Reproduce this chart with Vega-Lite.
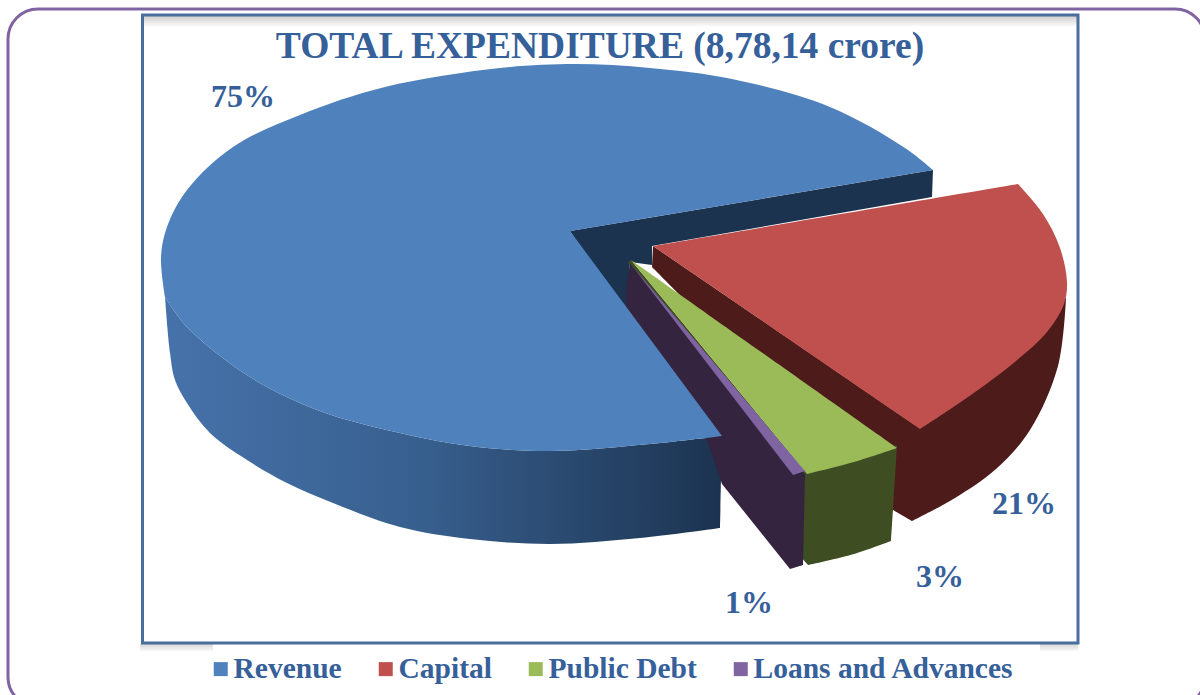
{"$schema":"https://vega.github.io/schema/vega-lite/v6.json","width":1200,"height":695,"padding":0,"autosize":"none","background":"white","view":{"stroke":null},
"title":{"text":"TOTAL EXPENDITURE (8,78,14 crore)","font":"Liberation Serif","fontSize":37.5,"fontWeight":"bold","color":"#35609a","anchor":"middle","offset":-95,"baseline":"alphabetic"},
"datasets":{
"frames":[{"frame":"outer","x":8,"x2":1205,"y":9,"y2":707}],
"panel":[{"frame":"panel","x":142.5,"x2":1078,"y":15,"y2":643}],
"topShade":[{"x":144,"x2":1077,"y":16,"y2":27}],
"bottomShade":[{"x":140,"x2":213,"y":644,"y2":652},{"x":1040,"x2":1078,"y":644,"y2":652}],
"labels":[{"label":"75%","x":243,"y":97},{"label":"21%","x":1024,"y":504},{"label":"3%","x":940,"y":577},{"label":"1%","x":749,"y":603}],
"outline":[
{"part":"BackWall","i":1,"x":570,"y":231},{"part":"BackWall","i":2,"x":933,"y":170},{"part":"BackWall","i":3,"x":932,"y":197},{"part":"BackWall","i":4,"x":652,"y":246},{"part":"BackWall","i":5,"x":652,"y":265},{"part":"BackWall","i":6,"x":630,"y":262},{"part":"BackWall","i":7,"x":626,"y":312},{"part":"BackWall","i":8,"x":605,"y":285},
{"part":"RevenueWall","i":1,"x":165,"y":297},{"part":"RevenueWall","i":2,"x":165,"y":297},{"part":"RevenueWall","i":3,"x":187,"y":327},{"part":"RevenueWall","i":4,"x":250,"y":377},{"part":"RevenueWall","i":5,"x":320,"y":411},{"part":"RevenueWall","i":6,"x":400,"y":433},{"part":"RevenueWall","i":7,"x":470,"y":446},{"part":"RevenueWall","i":8,"x":550,"y":451},{"part":"RevenueWall","i":9,"x":650,"y":444},{"part":"RevenueWall","i":10,"x":722,"y":436},{"part":"RevenueWall","i":11,"x":722,"y":436},{"part":"RevenueWall","i":12,"x":720,"y":528},{"part":"RevenueWall","i":13,"x":720,"y":528},{"part":"RevenueWall","i":14,"x":640,"y":538},{"part":"RevenueWall","i":15,"x":550,"y":544},{"part":"RevenueWall","i":16,"x":470,"y":539},{"part":"RevenueWall","i":17,"x":400,"y":527},{"part":"RevenueWall","i":18,"x":333,"y":503},{"part":"RevenueWall","i":19,"x":287,"y":483},{"part":"RevenueWall","i":20,"x":247,"y":460},{"part":"RevenueWall","i":21,"x":210,"y":433},{"part":"RevenueWall","i":22,"x":187,"y":403},{"part":"RevenueWall","i":23,"x":175,"y":380},{"part":"RevenueWall","i":24,"x":170,"y":353},{"part":"RevenueWall","i":25,"x":165,"y":297},
{"part":"CapitalWall","i":1,"x":653,"y":246},{"part":"CapitalWall","i":2,"x":915,"y":425},{"part":"CapitalWall","i":3,"x":915,"y":425},{"part":"CapitalWall","i":4,"x":1000,"y":340},{"part":"CapitalWall","i":5,"x":1000,"y":340},{"part":"CapitalWall","i":6,"x":1066,"y":298},{"part":"CapitalWall","i":7,"x":1066,"y":298},{"part":"CapitalWall","i":8,"x":1058,"y":366},{"part":"CapitalWall","i":9,"x":1030,"y":430},{"part":"CapitalWall","i":10,"x":996,"y":469},{"part":"CapitalWall","i":11,"x":955,"y":498},{"part":"CapitalWall","i":12,"x":912,"y":521},{"part":"CapitalWall","i":13,"x":912,"y":521},{"part":"CapitalWall","i":14,"x":893,"y":510},{"part":"CapitalWall","i":15,"x":893,"y":510},{"part":"CapitalWall","i":16,"x":652,"y":267},
{"part":"PublicWall","i":1,"x":800,"y":470},{"part":"PublicWall","i":2,"x":897,"y":445},{"part":"PublicWall","i":3,"x":897,"y":445},{"part":"PublicWall","i":4,"x":891,"y":541},{"part":"PublicWall","i":5,"x":891,"y":541},{"part":"PublicWall","i":6,"x":854,"y":554},{"part":"PublicWall","i":7,"x":808,"y":565},{"part":"PublicWall","i":8,"x":808,"y":565},{"part":"PublicWall","i":9,"x":800,"y":556},
{"part":"PublicEdge","i":1,"x":631,"y":260},{"part":"PublicEdge","i":2,"x":807,"y":474},{"part":"PublicEdge","i":3,"x":807,"y":474},{"part":"PublicEdge","i":4,"x":800,"y":472},{"part":"PublicEdge","i":5,"x":800,"y":472},{"part":"PublicEdge","i":6,"x":628,"y":262},
{"part":"LoansWall","i":1,"x":630,"y":263},{"part":"LoansWall","i":2,"x":805,"y":474},{"part":"LoansWall","i":3,"x":803,"y":565},{"part":"LoansWall","i":4,"x":790,"y":569},{"part":"LoansWall","i":5,"x":722,"y":484},{"part":"LoansWall","i":6,"x":700,"y":420},{"part":"LoansWall","i":7,"x":626,"y":312},{"part":"LoansWall","i":8,"x":626,"y":292},
{"part":"Revenue","i":1,"x":570,"y":231},{"part":"Revenue","i":2,"x":933,"y":170},{"part":"Revenue","i":3,"x":933,"y":170},{"part":"Revenue","i":4,"x":905,"y":148},{"part":"Revenue","i":5,"x":830,"y":107},{"part":"Revenue","i":6,"x":732,"y":79},{"part":"Revenue","i":7,"x":650,"y":68},{"part":"Revenue","i":8,"x":575,"y":64},{"part":"Revenue","i":9,"x":500,"y":68},{"part":"Revenue","i":10,"x":385,"y":87},{"part":"Revenue","i":11,"x":300,"y":115},{"part":"Revenue","i":12,"x":233,"y":147},{"part":"Revenue","i":13,"x":187,"y":190},{"part":"Revenue","i":14,"x":167,"y":227},{"part":"Revenue","i":15,"x":161,"y":257},{"part":"Revenue","i":16,"x":165,"y":297},{"part":"Revenue","i":17,"x":165,"y":297},{"part":"Revenue","i":18,"x":187,"y":327},{"part":"Revenue","i":19,"x":250,"y":377},{"part":"Revenue","i":20,"x":320,"y":411},{"part":"Revenue","i":21,"x":400,"y":433},{"part":"Revenue","i":22,"x":470,"y":446},{"part":"Revenue","i":23,"x":550,"y":451},{"part":"Revenue","i":24,"x":650,"y":444},{"part":"Revenue","i":25,"x":722,"y":436},
{"part":"Capital","i":1,"x":653,"y":246},{"part":"Capital","i":2,"x":1018,"y":184},{"part":"Capital","i":3,"x":1018,"y":184},{"part":"Capital","i":4,"x":1043,"y":214},{"part":"Capital","i":5,"x":1060,"y":248},{"part":"Capital","i":6,"x":1067,"y":282},{"part":"Capital","i":7,"x":1064,"y":304},{"part":"Capital","i":8,"x":1047,"y":332},{"part":"Capital","i":9,"x":1016,"y":361},{"part":"Capital","i":10,"x":985,"y":385},{"part":"Capital","i":11,"x":949,"y":410},{"part":"Capital","i":12,"x":920,"y":429},
{"part":"Public Debt","i":1,"x":631,"y":260},{"part":"Public Debt","i":2,"x":897,"y":448},{"part":"Public Debt","i":3,"x":897,"y":448},{"part":"Public Debt","i":4,"x":854,"y":462},{"part":"Public Debt","i":5,"x":807,"y":474},
{"part":"Loans and Advances","i":1,"x":630,"y":263},{"part":"Loans and Advances","i":2,"x":805,"y":471},{"part":"Loans and Advances","i":3,"x":805,"y":471},{"part":"Loans and Advances","i":4,"x":793,"y":475}
]},
"encoding":{
"x":{"field":"x","type":"quantitative","scale":{"domain":[0,1200],"range":[0,1200]},"axis":null},
"y":{"field":"y","type":"quantitative","scale":{"domain":[0,695],"range":[0,695]},"axis":null}},
"layer":[
{"data":{"name":"topShade"},"mark":{"type":"rect","fill":{"gradient":"linear","x1":0,"y1":0,"x2":0,"y2":1,"stops":[{"offset":0,"color":"#cfcdca"},{"offset":1,"color":"#ffffff"}]}},"encoding":{"x2":{"field":"x2"},"y2":{"field":"y2"}}},
{"data":{"name":"bottomShade"},"mark":{"type":"rect","fill":{"gradient":"linear","x1":0,"y1":0,"x2":0,"y2":1,"stops":[{"offset":0,"color":"#d5d5d5"},{"offset":1,"color":"#ffffff"}]}},"encoding":{"x2":{"field":"x2"},"y2":{"field":"y2"}}},
{"data":{"name":"frames"},"mark":{"type":"rect","fill":"transparent","stroke":"#8064a2","strokeWidth":3,"cornerRadius":30},"encoding":{"x2":{"field":"x2"},"y2":{"field":"y2"}}},
{"data":{"name":"panel"},"mark":{"type":"rect","fill":"transparent","stroke":"#4a6f9e","strokeWidth":3},"encoding":{"x2":{"field":"x2"},"y2":{"field":"y2"}}},
{"data":{"name":"outline"},"transform":[{"filter":"datum.part==='BackWall'"}],"mark":{"type":"line","fill":"#1c3350","strokeWidth":0},"encoding":{"order":{"field":"i"}}},
{"data":{"name":"outline"},"transform":[{"filter":"datum.part==='RevenueWall'"}],"mark":{"type":"line","strokeWidth":0,"interpolate":"catmull-rom","fill":{"gradient":"linear","x1":0,"y1":0,"x2":1,"y2":0,"stops":[{"offset":0,"color":"#4672aa"},{"offset":0.45,"color":"#38608f"},{"offset":1,"color":"#1c3350"}]}},"encoding":{"order":{"field":"i"}}},
{"data":{"name":"outline"},"transform":[{"filter":"datum.part==='CapitalWall'"}],"mark":{"type":"line","fill":"#4d1c1a","strokeWidth":0,"interpolate":"catmull-rom"},"encoding":{"order":{"field":"i"}}},
{"data":{"name":"outline"},"transform":[{"filter":"datum.part==='PublicWall'||datum.part==='PublicEdge'"}],"mark":{"type":"line","fill":"#3f4d22","strokeWidth":0,"interpolate":"catmull-rom"},"encoding":{"order":{"field":"i"},"detail":{"field":"part"}}},
{"data":{"name":"outline"},"transform":[{"filter":"datum.part==='LoansWall'"}],"mark":{"type":"line","fill":"#34243f","strokeWidth":0},"encoding":{"order":{"field":"i"}}},
{"data":{"name":"outline"},"transform":[{"filter":"indexof(['Revenue','Capital','Public Debt','Loans and Advances'],datum.part)>=0"}],"mark":{"type":"line","strokeWidth":0,"interpolate":"catmull-rom"},"encoding":{"order":{"field":"i"},"fill":{"field":"part","type":"nominal","scale":{"domain":["Revenue","Capital","Public Debt","Loans and Advances"],"range":["#4f81bd","#c0504d","#9bbb59","#8064a2"]},"legend":{"title":null,"orient":"none","legendX":206,"legendY":654,"direction":"horizontal","columns":4,"symbolType":"square","symbolSize":196,"symbolStrokeWidth":0,"labelFont":"Liberation Serif","labelFontWeight":"bold","labelFontSize":29.5,"labelColor":"#35609a","labelOffset":-2,"columnPadding":29,"padding":0,"labelLimit":400}}}},
{"data":{"name":"labels"},"mark":{"type":"text","font":"Liberation Serif","fontWeight":"bold","fontSize":32,"color":"#35609a","align":"center","baseline":"middle"},"encoding":{"text":{"field":"label"}}}
]}
